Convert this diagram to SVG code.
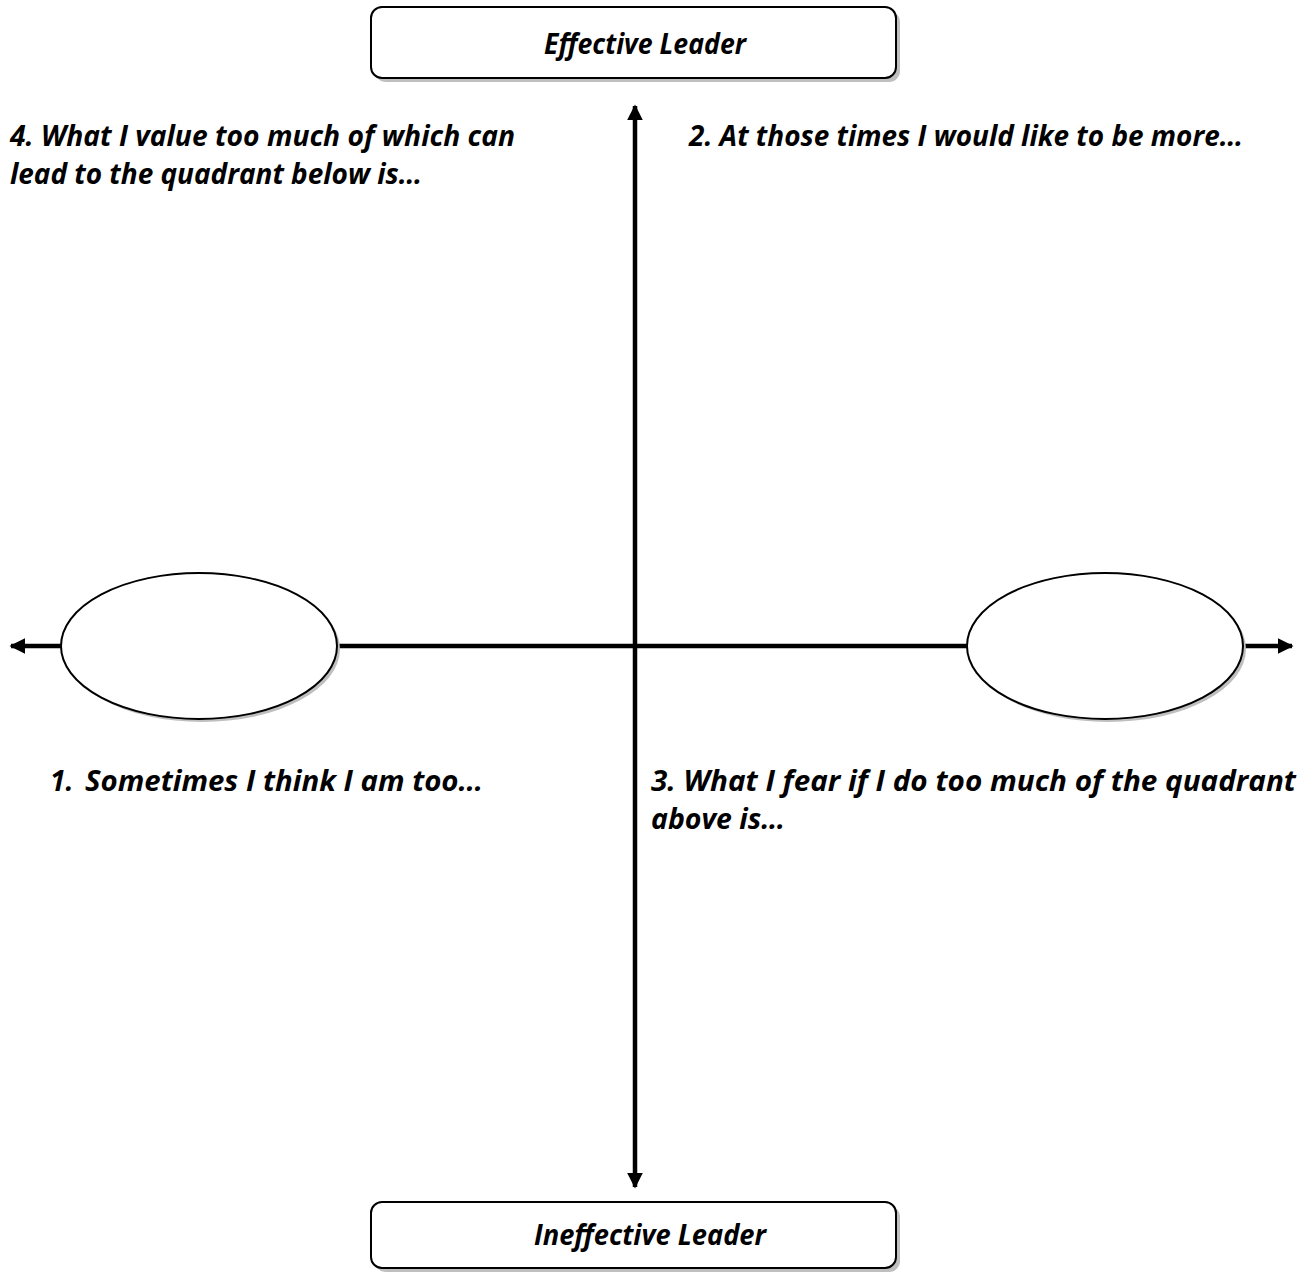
<svg xmlns="http://www.w3.org/2000/svg" width="1307" height="1272" viewBox="0 0 1307 1272">
  <style>
    .lbl { font-family: "Open Sans", Lato, "Liberation Sans", sans-serif; font-weight: bold; font-style: italic; font-size: 28px; fill: #000; }
    .box { fill: #fff; stroke: #000; stroke-width: 2; }
    .shadow { fill: #bfbfbf; stroke: none; }
    .axis { stroke: #000; stroke-width: 4.5; fill: none; }
  </style>
  <defs>
    <marker id="arrow" viewBox="0 0 10 10" refX="9" refY="5" markerWidth="3.5" markerHeight="3.5" orient="auto" markerUnits="strokeWidth">
      <path d="M0,0 L10,5 L0,10 z" fill="#000"/>
    </marker>
  </defs>
  <rect width="1307" height="1272" fill="#fff"/>

  <g id="connectors">
    <line class="axis" x1="635" y1="647" x2="635" y2="106" marker-end="url(#arrow)"/>
    <line class="axis" x1="635" y1="647" x2="635" y2="1187" marker-end="url(#arrow)"/>
    <line class="axis" x1="635" y1="646" x2="11" y2="646" marker-end="url(#arrow)"/>
    <line class="axis" x1="635" y1="646" x2="1292" y2="646" marker-end="url(#arrow)"/>
  </g>

  <g id="effective-leader">
    <rect class="shadow" x="375" y="11" width="525" height="71" rx="11"/>
    <rect class="box" x="371" y="7" width="525" height="71" rx="11"/>
    <text class="lbl" x="645" y="54" text-anchor="middle" textLength="202" lengthAdjust="spacingAndGlyphs">Effective Leader</text>
  </g>

  <g id="ineffective-leader">
    <rect class="shadow" x="375" y="1206" width="525" height="66" rx="11"/>
    <rect class="box" x="371" y="1202" width="525" height="66" rx="11"/>
    <text class="lbl" x="650" y="1245" text-anchor="middle" textLength="232" lengthAdjust="spacingAndGlyphs">Ineffective Leader</text>
  </g>

  <g id="left-ellipse">
    <ellipse class="shadow" cx="202" cy="649" rx="138" ry="73"/>
    <ellipse class="box" cx="199" cy="646" rx="138" ry="73"/>
  </g>

  <g id="right-ellipse">
    <ellipse class="shadow" cx="1108" cy="649" rx="138" ry="73"/>
    <ellipse class="box" cx="1105" cy="646" rx="138" ry="73"/>
  </g>

  <g id="q4">
    <text class="lbl" x="10" y="146" textLength="505" lengthAdjust="spacingAndGlyphs">4. What I value too much of which can</text>
    <text class="lbl" x="10" y="184" textLength="412" lengthAdjust="spacingAndGlyphs">lead to the quadrant below is…</text>
  </g>
  <g id="q2">
    <text class="lbl" x="689" y="146" textLength="554" lengthAdjust="spacingAndGlyphs">2. At those times I would like to be more…</text>
  </g>
  <g id="q1">
    <text class="lbl" x="50" y="791">1.</text>
    <text class="lbl" x="85" y="791" textLength="398" lengthAdjust="spacingAndGlyphs">Sometimes I think I am too…</text>
  </g>
  <g id="q3">
    <text class="lbl" x="651" y="791" textLength="645" lengthAdjust="spacingAndGlyphs">3. What I fear if I do too much of the quadrant</text>
    <text class="lbl" x="651" y="829" textLength="134" lengthAdjust="spacingAndGlyphs">above is…</text>
  </g>
</svg>
